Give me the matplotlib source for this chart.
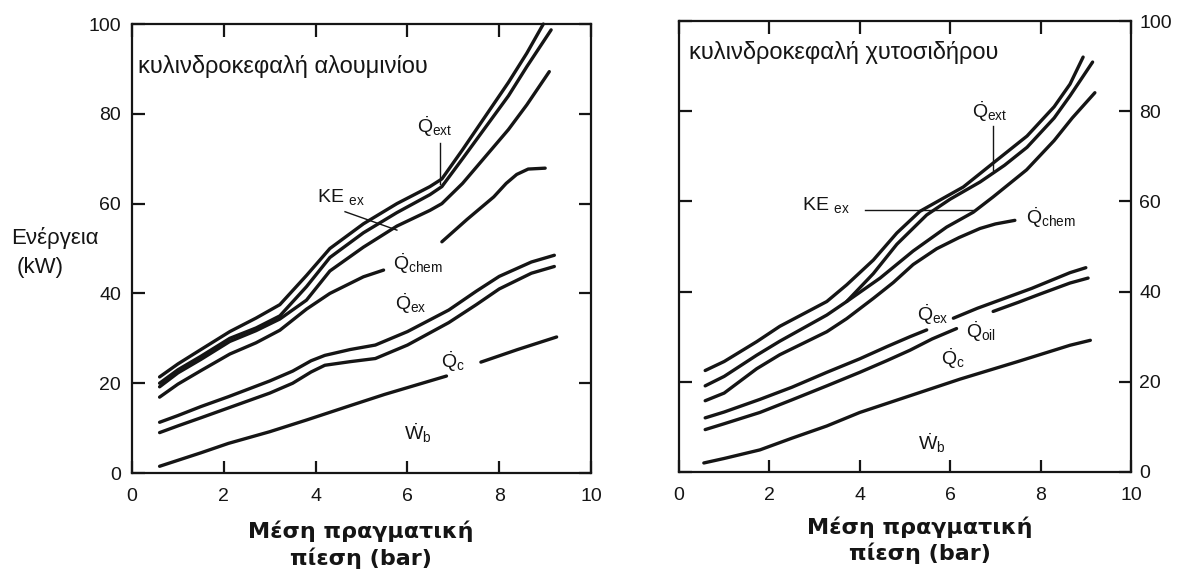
import numpy as np
import matplotlib.pyplot as plt

plt.rcParams['font.family'] = ['Liberation Sans', 'DejaVu Sans']
plt.rcParams['mathtext.fontset'] = 'custom'
plt.rcParams['mathtext.rm'] = 'Liberation Sans'
plt.rcParams['mathtext.it'] = 'Liberation Sans:italic'

nan = np.nan
INK = '#151515'

# ---- aluminium head (left panel) ----
alu_wb_x = [0.6, 1.5, 2.1, 3.0, 3.8, 4.75, 5.5, 6.85, nan, 7.6, 8.4, 9.25]
alu_wb_y = [1.5, 4.5, 6.6, 9.2, 11.8, 15.0, 17.5, 21.6, nan, 24.7, 27.5, 30.3]

alu_pair_x = [0.6, 1.0, 1.5, 2.1, 3.0, 3.5, 3.9, 4.2, 4.75, 5.3, 6.0, 6.9, 7.5, 8.0, 8.7, 9.2]
alu_qc_y = [9.0, 10.5, 12.3, 14.5, 17.8, 20.0, 22.5, 24.0, 24.8, 25.5, 28.5, 33.5, 37.5, 41.0, 44.5, 46.0]
alu_qex_y = [11.3, 12.8, 14.8, 17.0, 20.5, 22.7, 25.0, 26.2, 27.5, 28.5, 31.5, 36.3, 40.5, 43.8, 47.0, 48.5]

alu_chem_x = [0.6, 1.0, 1.5, 2.13, 2.7, 3.22, 3.8, 4.31, 5.04, 5.48, nan,
              6.75, 7.3, 7.88, 8.15, 8.38, 8.63, 9.0]
alu_chem_y = [16.9, 19.8, 22.8, 26.5, 29.0, 31.8, 36.5, 40.0, 43.7, 45.2, nan,
              51.5, 56.5, 61.5, 64.5, 66.5, 67.7, 67.9]

alu_up_x = [0.6, 1.0, 1.5, 2.13, 2.7, 3.22, 3.8, 4.31, 5.04, 5.77, 6.49, 6.75, 7.2, 7.7, 8.2, 8.6]
alu_ke_y = [19.2, 22.3, 25.3, 29.3, 31.7, 34.3, 38.5, 45.0, 50.3, 55.0, 58.5, 60.0, 64.5, 70.5, 76.5, 82.0]
alu_ext_lo_y = [20.0, 23.0, 26.0, 30.0, 32.3, 35.0, 41.5, 48.0, 53.5, 58.0, 62.0, 63.8, 70.0, 77.0, 84.0, 90.5]
alu_ext_hi_y = [21.4, 24.3, 27.5, 31.5, 34.5, 37.5, 44.0, 50.0, 55.5, 60.0, 63.8, 65.5, 72.0, 79.5, 87.0, 93.5]
alu_end_x = [9.09, 9.13, 8.96]
alu_end_y = [89.4, 98.7, 100.0]

# ---- cast-iron head (right panel) ----
ci_wb_x = [0.55, 1.0, 1.79, 2.5, 3.27, 4.0, 5.11, 6.22, 7.5, 8.65, 9.1]
ci_wb_y = [2.0, 3.0, 4.9, 7.5, 10.2, 13.2, 16.9, 20.6, 24.5, 28.1, 29.2]

ci_qc_x = [0.58, 1.0, 1.79, 2.5, 3.27, 4.0, 4.6, 5.11, 5.6, 6.14, nan, 6.95, 7.5, 8.0, 8.65, 9.05]
ci_qc_y = [9.4, 10.7, 13.2, 16.0, 19.1, 22.1, 24.7, 27.0, 29.5, 31.8, nan, 35.6, 37.6, 39.5, 41.9, 43.0]

ci_qex_x = [0.58, 1.0, 1.79, 2.5, 3.27, 4.0, 4.6, 5.11, 5.48, nan, 6.07, 6.6, 7.2, 7.8, 8.65, 9.0]
ci_qex_y = [12.0, 13.3, 16.1, 18.8, 22.1, 25.1, 27.8, 30.0, 31.5, nan, 34.1, 36.3, 38.5, 40.7, 44.2, 45.3]

ci_chem_x = [0.58, 1.0, 1.72, 2.23, 3.27, 3.71, 4.3, 4.74, 5.18, 5.7, 6.2, 6.66, 7.0, 7.43]
ci_chem_y = [15.8, 17.5, 22.9, 26.0, 31.1, 34.0, 38.5, 42.0, 46.0, 49.5, 52.0, 54.0, 55.0, 55.8]

ci_ke_x = [3.71, 4.45, 5.18, 5.92, 6.51, 6.95, 7.69, 8.3, 8.7, 9.2]
ci_ke_y = [37.8, 43.0, 49.0, 54.3, 57.6, 61.0, 67.0, 73.5, 78.5, 84.1]

ci_ext_lo_x = [0.58, 1.0, 1.72, 2.23, 3.27, 3.71, 4.3, 4.82, 5.48, 6.0, 6.66, 7.2, 7.7, 8.3, 8.65, 9.15]
ci_ext_lo_y = [19.1, 21.2, 25.9, 29.0, 34.8, 37.8, 44.0, 50.5, 57.0, 60.5, 64.3, 68.0, 72.0, 78.5, 83.4, 90.9]

ci_ext_hi_x = [0.58, 1.0, 1.72, 2.23, 3.27, 3.71, 4.3, 4.82, 5.33, 6.29, 6.95, 7.7, 8.3, 8.65, 8.94]
ci_ext_hi_y = [22.5, 24.5, 28.9, 32.3, 37.8, 41.5, 47.0, 53.0, 57.8, 63.2, 68.5, 74.5, 81.0, 86.0, 92.0]

ticks = [0, 2, 4, 6, 8, 10]
yticks = [0, 20, 40, 60, 80, 100]


def q(sub, sym='Q'):
    return r'$\dot{\mathrm{%s}}_{\mathrm{%s}}$' % (sym, sub)


def setup(ax, side):
    ax.set_xlim(0, 10)
    ax.set_ylim(0, 100)
    ax.set_xticks(ticks)
    ax.set_yticks(yticks)
    for s in ax.spines.values():
        s.set_linewidth(1.6)
        s.set_color(INK)
    ax.tick_params(direction='in', length=9, width=1.6, top=True, right=True,
                   labelsize=14, colors=INK, pad=8)
    ax.tick_params(axis='x', pad=11)
    if side == 'right':
        ax.tick_params(axis='y', labelleft=False, labelright=True, pad=6)


fig = plt.figure(figsize=(11.8, 5.71), dpi=100)
ax1 = fig.add_axes([0.1119, 0.1716, 0.3890, 0.7863])
ax2 = fig.add_axes([0.5754, 0.1734, 0.3831, 0.7898])
setup(ax1, 'left')
setup(ax2, 'right')

kw = dict(color=INK, lw=2.4, solid_capstyle='round', solid_joinstyle='round')
lab = dict(fontsize=14, ha='center', va='center', color=INK)

# left panel curves
ax1.plot(alu_wb_x, alu_wb_y, **kw)
ax1.plot(alu_pair_x, alu_qc_y, **kw)
ax1.plot(alu_pair_x, alu_qex_y, **kw)
ax1.plot(alu_chem_x, alu_chem_y, **kw)
for ys, xe, ye in zip([alu_ke_y, alu_ext_lo_y, alu_ext_hi_y], alu_end_x, alu_end_y):
    ax1.plot(alu_up_x + [xe], ys + [ye], clip_on=False, **kw)

ax1.text(0.013, 0.905, 'κυλινδροκεφαλή αλουμινίου', transform=ax1.transAxes,
         fontsize=17, va='center', ha='left', color=INK)
ax1.text(6.6, 77.1, q('ext'), **lab)
ax1.plot([6.71, 6.71], [73.4, 64.3], color=INK, lw=1.0)
ax1.text(4.55, 61.5, r'$\mathrm{KE}\ _{\mathrm{ex}}$', **lab)
ax1.plot([4.64, 5.77], [58.2, 54.1], color=INK, lw=1.0)
ax1.text(6.23, 46.7, q('chem'), **lab)
ax1.text(6.07, 37.8, q('ex'), **lab)
ax1.text(7.0, 24.7, q('c'), **lab)
ax1.text(6.23, 8.8, q('b', 'W'), **lab)

# right panel curves
ax2.plot(ci_wb_x, ci_wb_y, **kw)
ax2.plot(ci_qc_x, ci_qc_y, **kw)
ax2.plot(ci_qex_x, ci_qex_y, **kw)
ax2.plot(ci_chem_x, ci_chem_y, **kw)
ax2.plot(ci_ke_x, ci_ke_y, **kw)
ax2.plot(ci_ext_lo_x, ci_ext_lo_y, **kw)
ax2.plot(ci_ext_hi_x, ci_ext_hi_y, **kw)

ax2.text(0.022, 0.931, 'κυλινδροκεφαλή χυτοσιδήρου', transform=ax2.transAxes,
         fontsize=17, va='center', ha='left', color=INK)
ax2.text(6.88, 80.0, q('ext'), **lab)
ax2.plot([6.95, 6.95], [76.7, 67.0], color=INK, lw=1.0)
ax2.text(3.25, 59.2, r'$\mathrm{KE}\ _{\mathrm{ex}}$', **lab)
ax2.plot([4.12, 6.5], [58.0, 58.0], color=INK, lw=1.0)
ax2.text(8.23, 56.5, q('chem'), **lab)
ax2.text(5.62, 34.8, q('ex'), **lab)
ax2.text(6.68, 31.1, q('oil'), **lab)
ax2.text(6.05, 25.1, q('c'), **lab)
ax2.text(5.6, 6.4, q('b', 'W'), **lab)

# axis titles
fig.text(11 / 1180, 1 - 238 / 571, 'Ενέργεια', fontsize=16, ha='left', va='center', color=INK)
fig.text(17 / 1180, 1 - 267 / 571, '(kW)', fontsize=16, ha='left', va='center', color=INK)

xlab = dict(fontsize=16, fontweight='bold', ha='center', va='center', color=INK,
            family=['DejaVu Sans'])
fig.text(361 / 1180, 1 - 531 / 571, 'Μέση πραγματική', **xlab)
fig.text(361 / 1180, 1 - 558 / 571, 'πίεση (bar)', **xlab)
fig.text(920 / 1180, 1 - 527 / 571, 'Μέση πραγματική', **xlab)
fig.text(920 / 1180, 1 - 553 / 571, 'πίεση (bar)', **xlab)

fig.savefig('out.png', dpi=100)
